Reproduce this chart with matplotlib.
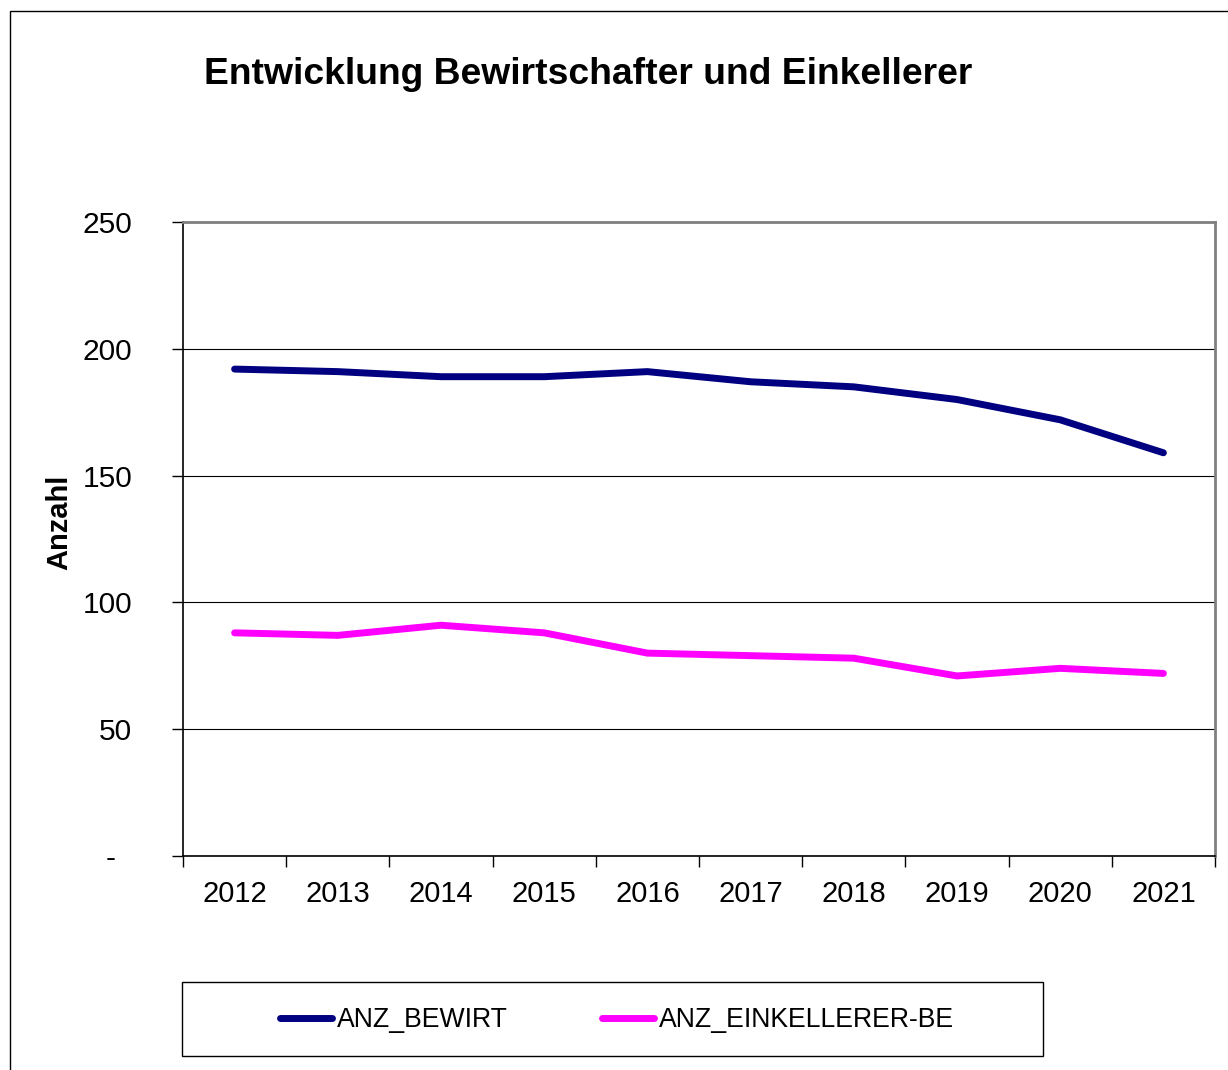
import matplotlib
matplotlib.use("Agg")
import matplotlib.pyplot as plt
from matplotlib.patches import Rectangle

years = ["2012", "2013", "2014", "2015", "2016", "2017", "2018", "2019", "2020", "2021"]
anz_bewirt = [192, 191, 189, 189, 191, 187, 185, 180, 172, 159]
anz_einkellerer = [88, 87, 91, 88, 80, 79, 78, 71, 74, 72]
y_ticks = [0, 50, 100, 150, 200, 250]
y_labels = ["-  ", "50", "100", "150", "200", "250"]

plt.rcParams['font.family'] = ['Liberation Sans', 'DejaVu Sans']

W, H = 1228, 1070
fig = plt.figure(figsize=(W / 100, H / 100), dpi=100)

# outer figure frame
fig.patches.append(Rectangle((10 / W, -0.1), 1.2, (H - 11) / H + 0.1, transform=fig.transFigure,
                             fill=False, edgecolor='black', linewidth=1.0))

ax = fig.add_axes([183 / W, (H - 856) / H, (1215 - 183) / W, (856 - 222) / H])

x = list(range(len(years)))
l1, = ax.plot(x, anz_bewirt, color='#000080', linewidth=5, solid_capstyle='round',
              solid_joinstyle='round', label='ANZ_BEWIRT', zorder=3)
l2, = ax.plot(x, anz_einkellerer, color='#FF00FF', linewidth=5, solid_capstyle='round',
              solid_joinstyle='round', label='ANZ_EINKELLERER-BE', zorder=3)

ax.set_xlim(-0.5, len(years) - 0.5)
ax.set_ylim(0, 250)

ax.set_yticks(y_ticks)
ax.set_yticklabels(y_labels)
ax.tick_params(axis='y', direction='out', length=8, width=1, pad=28.5, labelsize=21.5, colors='black')

ax.set_xticks(x)
ax.set_xticklabels(years)
ax.tick_params(axis='x', which='major', length=0, pad=17, labelsize=21)
ax.set_xticks([i - 0.5 for i in range(len(years) + 1)], minor=True)
ax.tick_params(axis='x', which='minor', direction='out', length=8, width=1, colors='black')

ax.yaxis.grid(True, color='black', linewidth=0.8)
ax.set_axisbelow(True)

for s in ['left', 'bottom']:
    ax.spines[s].set_color('black')
    ax.spines[s].set_linewidth(1.2)
for s in ['top', 'right']:
    ax.spines[s].set_color('#808080')
    ax.spines[s].set_linewidth(2)

ax.set_ylabel('Anzahl', fontsize=21, fontweight='bold')
ax.yaxis.set_label_coords(-0.106, 0.527)

fig.text(588 / W, (H - 74) / H, 'Entwicklung Bewirtschafter und Einkellerer',
         fontsize=26.8, fontweight='bold', ha='center', va='center')

# legend box
fig.patches.append(Rectangle((182 / W, (H - 1056) / H), (1043 - 182) / W, (1056 - 982) / H,
                             transform=fig.transFigure, fill=False, edgecolor='black', linewidth=1.0))
fig.legend(handles=[l1, l2], loc='center', bbox_to_anchor=(617 / W, (H - 1020) / H),
           ncol=2, frameon=False, fontsize=19.2, handlelength=1.95, handletextpad=0.2,
           columnspacing=3.5)

fig.savefig('out.png', dpi=100)
